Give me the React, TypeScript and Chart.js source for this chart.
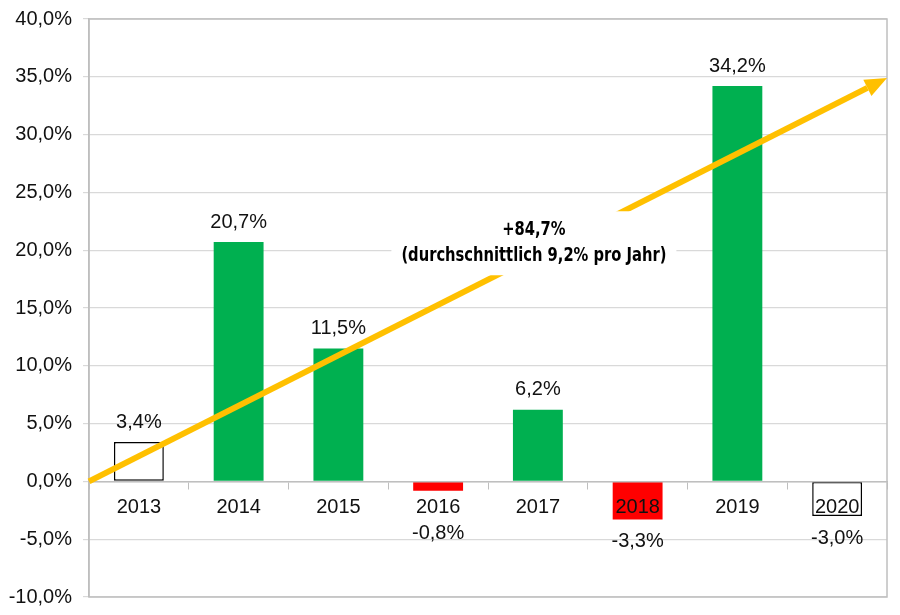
import React, { useEffect, useRef } from "react";
import { Chart, registerables } from "chart.js";

Chart.register(...registerables);

const categories = ["2013", "2014", "2015", "2016", "2017", "2018", "2019", "2020"];
const values = [3.4, 20.7, 11.5, -0.8, 6.2, -3.3, 34.2, -3.0];
const barFill = ["#FFFFFF", "#00B050", "#00B050", "#FF0000", "#00B050", "#FF0000", "#00B050", "#FFFFFF"];
const barBorder = [1.5, 0, 0, 0, 0, 0, 0, 1.5];
const yMin = -10;
const yMax = 40;
const yStep = 5;
const trendStartValue = 0;
const trendEndValue = 34.9;
const annotationLines = ["+84,7%", "(durchschnittlich 9,2% pro Jahr)"];
const annotationAt = { index: 3.96, value: 20.6 };

const fmt = (v: number) => v.toFixed(1).replace(".", ",") + "%";
const FONT = "'Liberation Sans', Arial, sans-serif";

const overlayPlugin = {
  id: "overlay",
  afterDraw(chart: any) {
    const { ctx, chartArea } = chart;
    const xs = chart.scales.x;
    const ys = chart.scales.y;
    const meta = chart.getDatasetMeta(0);
    const zero = ys.getPixelForValue(0);
    ctx.save();
    // plot border
    ctx.strokeStyle = "#BFBFBF";
    ctx.lineWidth = 1.5;
    ctx.strokeRect(chartArea.left, chartArea.top, chartArea.right - chartArea.left, chartArea.bottom - chartArea.top);

    // trend arrow
    const x0 = chartArea.left;
    const y0 = ys.getPixelForValue(trendStartValue);
    const x1 = chartArea.right;
    const y1 = ys.getPixelForValue(trendEndValue);
    const ang = Math.atan2(y1 - y0, x1 - x0);
    const headLen = 22;
    const headW = 9;
    const bx = x1 - headLen * Math.cos(ang);
    const by = y1 - headLen * Math.sin(ang);
    ctx.strokeStyle = "#FFC000";
    ctx.fillStyle = "#FFC000";
    ctx.lineWidth = 6;
    ctx.lineCap = "butt";
    ctx.beginPath();
    ctx.moveTo(x0, y0);
    ctx.lineTo(bx, by);
    ctx.stroke();
    ctx.beginPath();
    ctx.moveTo(x1, y1);
    ctx.lineTo(bx + headW * Math.sin(ang), by - headW * Math.cos(ang));
    ctx.lineTo(bx - headW * Math.sin(ang), by + headW * Math.cos(ang));
    ctx.closePath();
    ctx.fill();

    // annotation
    const ax = xs.getPixelForValue(annotationAt.index);
    const ay = ys.getPixelForValue(annotationAt.value);
    ctx.font = "bold 19px 'DejaVu Sans Condensed', 'DejaVu Sans', sans-serif";
    const lh = 26;
    const rawW = Math.max(...annotationLines.map((l) => ctx.measureText(l).width));
    const sx = Math.min(1, 265 / rawW);
    const w = rawW * sx;
    ctx.fillStyle = "#FFFFFF";
    ctx.fillRect(ax - w / 2 - 10, ay - 32, w + 20, 64);
    ctx.fillStyle = "#000000";
    ctx.textAlign = "center";
    ctx.textBaseline = "middle";
    annotationLines.forEach((l, i) => {
      ctx.save();
      ctx.translate(ax, ay - lh / 2 + i * lh);
      ctx.scale(sx, 1);
      ctx.fillText(l, 0, 0);
      ctx.restore();
    });

    // data labels
    ctx.font = "20px " + FONT;
    ctx.fillStyle = "#111111";
    meta.data.forEach((bar: any, i: number) => {
      const v = values[i];
      let y;
      if (v >= 0) y = bar.y - 20;
      else y = Math.max(bar.y + 22, zero + 52);
      ctx.fillText(fmt(v), bar.x, y);
    });
    ctx.restore();
  },
};

export default function App() {
  const ref = useRef<HTMLCanvasElement>(null);
  useEffect(() => {
    document.body.style.margin = "0";
    const chart = new Chart(ref.current!, {
      type: "bar",
      data: {
        labels: categories,
        datasets: [
          {
            data: values,
            backgroundColor: barFill,
            borderColor: "#000000",
            borderWidth: barBorder,
            borderSkipped: false,
            barPercentage: 0.5,
            categoryPercentage: 1,
          },
        ],
      },
      options: {
        animation: false,
        responsive: true,
        maintainAspectRatio: false,
        layout: { padding: { left: 0, top: 19, right: 13, bottom: 18 } },
        plugins: { legend: { display: false }, tooltip: { enabled: false } },
        scales: {
          x: {
            position: { y: 0 } as any,
            grid: { drawOnChartArea: false, drawTicks: true, tickLength: 7, offset: true, color: "#BFBFBF", z: 1 },
            border: { display: true, color: "#BFBFBF", width: 1.5, z: 1 },
            ticks: { color: "#111111", font: { family: FONT, size: 20 }, padding: 7, maxRotation: 0, autoSkip: false, z: 1 },
          },
          y: {
            min: yMin,
            max: yMax,
            afterFit: (s: any) => {
              s.width = 89;
              s.paddingTop = 0;
              s.paddingBottom = 0;
            },
            grid: { color: "#D9D9D9", lineWidth: 1.2, tickLength: 6 },
            border: { display: true, color: "#BFBFBF", width: 1.5 },
            ticks: {
              stepSize: yStep,
              color: "#111111",
              font: { family: FONT, size: 20 },
              padding: 11,
              callback: (v: any) => fmt(Number(v)),
            },
          },
        },
      },
      plugins: [overlayPlugin],
    });
    return () => chart.destroy();
  }, []);
  return (
    <div style={{ width: 900, height: 615, position: "relative" }}>
      <canvas ref={ref} />
    </div>
  );
}
